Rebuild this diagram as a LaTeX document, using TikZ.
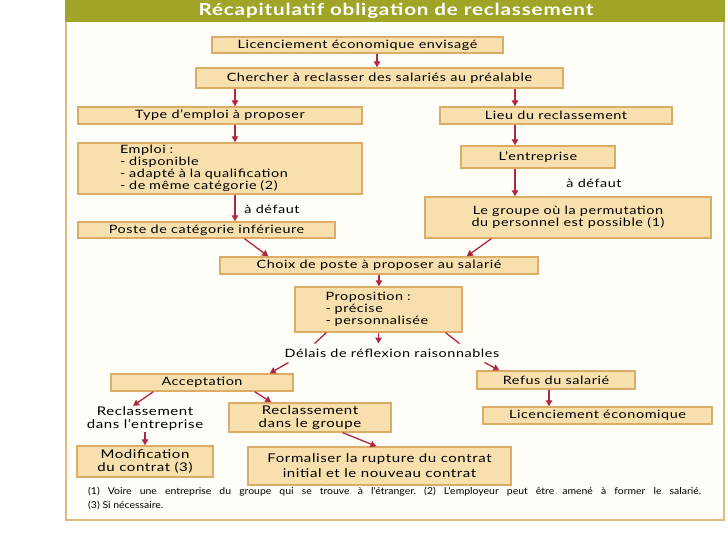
\documentclass[tikz,border=0pt]{standalone}
\usepackage{fontspec}
\setmainfont[FakeStretch=1.25,LetterSpace=5]{Lato}
\newfontfamily\notefont[FakeStretch=1.1]{Lato}
\usetikzlibrary{arrows.meta,positioning,calc}
\definecolor{ftitre}{HTML}{A0A527}
\definecolor{fcadre}{HTML}{E3BA7E}
\definecolor{ffond}{HTML}{FFFEF9}
\definecolor{fbloc}{HTML}{F7E0AE}
\definecolor{fbord}{HTML}{DAAC66}
\definecolor{ffleche}{HTML}{B3263F}
\tikzset{
  bloc/.style   = {draw=fbord, fill=fbloc, line width=1.4pt, inner sep=0pt,
                   align=center, text=black},
  etiq/.style   = {inner sep=1pt, align=center, text=black},
  fleche/.style = {draw=ffleche, line width=1.3pt,
                   -{Triangle[length=6pt,width=6.5pt]}},
  trait/.style  = {draw=ffleche, line width=1.3pt},
}
\newcommand{\grand}{\fontsize{12}{13}\selectfont}

\begin{document}
\begin{tikzpicture}[x=1pt,y=-1pt,font=\fontsize{11.5}{12}\selectfont]
\useasboundingbox (0,0) rectangle (728,546);
\fill[white] (0,0) rectangle (728,546);
\filldraw[fill=ffond,draw=fcadre,line width=2.5pt] (66,0) rectangle (724,520);
\fill[ftitre] (64.75,0) rectangle (725.25,22);
\node[text=white,font=\fontsize{16.5}{16.5}\selectfont\bfseries] (titre) at (396,11)
  {Récapitulatif obligation de reclassement};
% colonnes des fleches verticales
\coordinate (colg) at (235,0);
\coordinate (cold) at (515,0);
\coordinate (colc) at (377,0);
\coordinate (colr) at (549,0);
% blocs
\node[bloc,minimum width=291,minimum height=16] (lic) at (357.5,45)
  {Licenciement économique envisagé};
\node[bloc,minimum width=367,minimum height=20] (chercher) at (379.5,78)
  {Chercher à reclasser des salariés au préalable};
\node[bloc,minimum width=284,minimum height=17] (type) at (220,115.5)
  {Type d'emploi à proposer};
\node[bloc,minimum width=232,minimum height=17] (lieu) at (556,115.5)
  {Lieu du reclassement};
\node[bloc,text width=200,inner xsep=42,minimum height=51,align=left] (emploi) at (220,168.5)
  {Emploi :\\- disponible\\- adapté~à~la~qualification\\- de~même~catégorie~(2)};
\node[bloc,minimum width=154,minimum height=22] (entreprise) at (538,157)
  {L'entreprise};
\node[bloc,minimum width=286,minimum height=41] (groupe) at (568,217.5)
  {Le groupe où la permutation\\du personnel est possible (1)};
\node[bloc,minimum width=257,minimum height=16] (poste) at (206.5,230)
  {Poste de catégorie inférieure};
\node[bloc,minimum width=318,minimum height=17] (choix) at (379,265.5)
  {Choix de poste à proposer au salarié};
\node[bloc,text width=106,inner xsep=30.5,minimum height=45,align=left] (prop) at (378.5,309.5)
  {Proposition :\\- précise\\- personnalisée};
\node[etiq,inner xsep=0pt,inner ysep=5pt] (delais) at (392,353)
  {Délais de réflexion raisonnables};
\node[bloc,minimum width=182,minimum height=17] (accept) at (202,382.5)
  {Acceptation};
\node[bloc,minimum width=158,minimum height=18] (refus) at (556,380)
  {Refus du salarié};
\node[etiq,font=\grand] (reclent) at (145,419)
  {Reclassement\\dans l'entreprise};
\node[bloc,font=\grand,minimum width=162,minimum height=29] (reclgr) at (310,417.5)
  {Reclassement\\dans le groupe};
\node[bloc,minimum width=229,minimum height=17] (licenc) at (597.5,415.5)
  {Licenciement économique};
\node[bloc,font=\grand,minimum width=136,minimum height=31] (modif) at (145,461.5)
  {Modification\\du contrat (3)};
\node[bloc,font=\fontsize{12}{15}\selectfont,minimum width=263,minimum height=38] (formal) at (379.5,466)
  {Formaliser la rupture du contrat\\initial et le nouveau contrat};
\node[etiq] (defg) at (272,209) {à défaut};
\node[etiq] (defd) at (594,183) {à défaut};
% notes
\node[anchor=north west,inner sep=0pt,text width=613,align=justify,
      font=\notefont\fontsize{9.5}{14}\selectfont] (notes) at (88,486.5)
  {\hyphenpenalty=10000\frenchspacing (1) Voire une entreprise du groupe qui se trouve à l'étranger. (2) L'employeur peut être amené à former le salarié.\linebreak
   (3) Si nécessaire.};
% fleches
\draw[fleche] (lic.south -| colc) -- (chercher.north -| colc);
\draw[fleche] (chercher.south -| colg) -- (type.north -| colg);
\draw[fleche] (chercher.south -| cold) -- (lieu.north -| cold);
\draw[fleche] (type.south -| colg) -- (emploi.north -| colg);
\draw[fleche] (lieu.south -| cold) -- (entreprise.north -| cold);
\draw[fleche] (emploi.south -| colg) -- (poste.north -| colg);
\draw[fleche] (entreprise.south -| cold) -- (groupe.north -| cold);
\draw[fleche] ($(poste.south)+(38,0)$) -- ($(choix.north west)+(49,0)$);
\draw[fleche] ($(groupe.south west)+(67,0)$) -- ($(choix.north east)+(-72,0)$);
\draw[fleche] (choix.south) -- (choix.south |- prop.north);
\draw[trait] ($(prop.south west)+(32,0)$) -- ($(delais.north west)+(30,0)$);
\draw[fleche] (prop.south) -- (prop.south |- delais.north);
\draw[trait] ($(prop.south east)+(-17,0)$) -- ($(delais.north east)+(-40,0)$);
\draw[fleche] ($(delais.south west)+(4,0)$) -- ($(accept.north east)+(-24,0)$);
\draw[fleche] ($(delais.south east)+(-15,0)$) -- ($(refus.north west)+(23,0)$);
\draw[fleche] ($(accept.south west)+(43,0)$) -- ($(reclent.north)+(-12,0)$);
\draw[fleche] ($(accept.south east)+(-39,0)$) -- ($(reclgr.north west)+(43,0)$);
\draw[fleche] (reclent.south) -- (modif.north);
\draw[fleche] ($(reclgr.south east)+(-49,0)$) -- ($(formal.north)+(-3,0)$);
\draw[fleche] (refus.south -| colr) -- (licenc.north -| colr);
\end{tikzpicture}
\end{document}
